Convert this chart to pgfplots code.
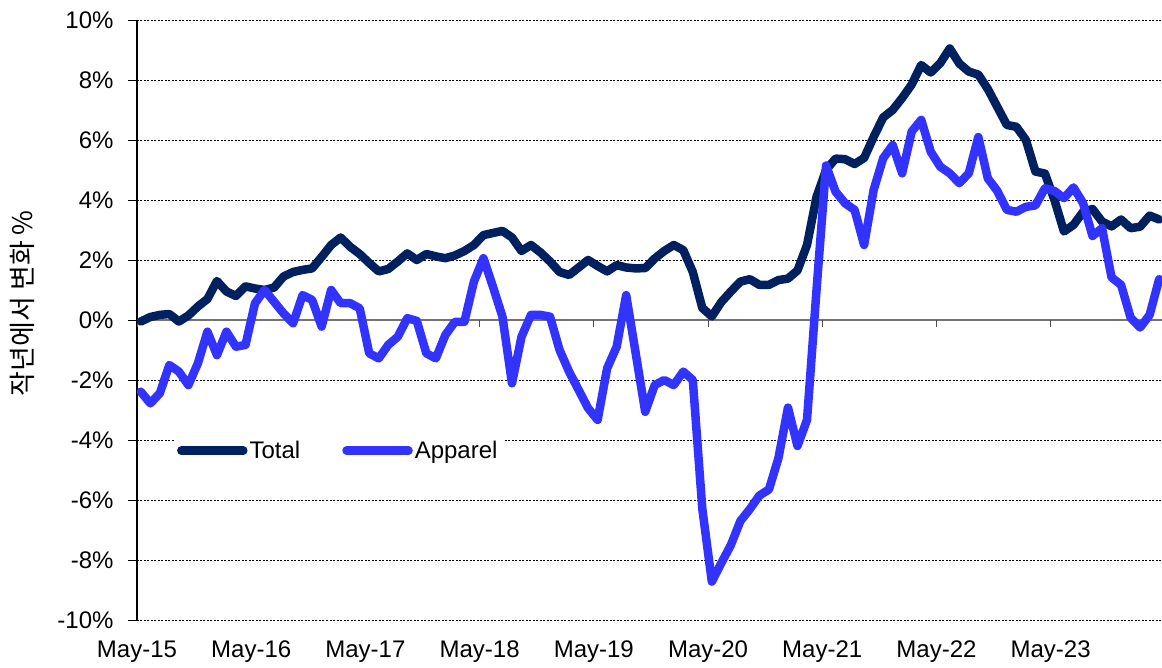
\documentclass[border=0pt]{standalone}
\usepackage{fontspec}
\setmainfont{Liberation Sans}
\newfontfamily\kr{Noto Sans CJK KR}
\usepackage{pgfplots}
\pgfplotsset{compat=1.18}
\usepackage{pgfplotstable}

\definecolor{navy}{HTML}{002060}
\definecolor{appblue}{HTML}{3333FF}

\pgfplotstableread{
x total apparel
0 -0.05 -2.39
1 0.1 -2.78
2 0.17 -2.44
3 0.2 -1.5
4 -0.05 -1.72
5 0.15 -2.17
6 0.45 -1.44
7 0.7 -0.39
8 1.3 -1.17
9 0.95 -0.39
10 0.8 -0.89
11 1.12 -0.83
12 1.05 0.56
13 1.0 1.0
14 1.08 0.61
15 1.45 0.22
16 1.6 -0.11
17 1.67 0.83
18 1.72 0.67
19 2.1 -0.22
20 2.5 1.0
21 2.75 0.56
22 2.44 0.56
23 2.2 0.39
24 1.9 -1.11
25 1.62 -1.28
26 1.7 -0.83
27 1.95 -0.56
28 2.22 0.06
29 2.0 -0.03
30 2.2 -1.11
31 2.12 -1.28
32 2.06 -0.5
33 2.15 -0.06
34 2.3 -0.06
35 2.5 1.28
36 2.83 2.06
37 2.9 1.11
38 2.97 0.11
39 2.75 -2.11
40 2.3 -0.56
41 2.5 0.17
42 2.25 0.17
43 1.95 0.11
44 1.6 -1.0
45 1.5 -1.72
46 1.75 -2.33
47 2.0 -2.94
48 1.8 -3.33
49 1.62 -1.61
50 1.83 -0.89
51 1.75 0.83
52 1.72 -1.11
53 1.73 -3.06
54 2.05 -2.17
55 2.3 -2.0
56 2.5 -2.17
57 2.33 -1.72
58 1.6 -2.0
59 0.4 -6.3
60 0.12 -8.72
61 0.6 -8.1
62 0.95 -7.5
63 1.28 -6.7
64 1.36 -6.3
65 1.17 -5.85
66 1.17 -5.65
67 1.33 -4.6
68 1.38 -2.92
69 1.65 -4.2
70 2.5 -3.33
71 4.1 1.0
72 5.0 5.15
73 5.38 4.28
74 5.36 3.89
75 5.2 3.67
76 5.4 2.5
77 6.1 4.33
78 6.75 5.39
79 7.0 5.83
80 7.4 4.89
81 7.85 6.28
82 8.5 6.67
83 8.25 5.61
84 8.56 5.11
85 9.05 4.89
86 8.55 4.56
87 8.28 4.89
88 8.18 6.1
89 7.7 4.72
90 7.1 4.3
91 6.5 3.67
92 6.44 3.61
93 6.0 3.77
94 4.95 3.82
95 4.88 4.39
96 4.0 4.3
97 2.95 4.06
98 3.17 4.42
99 3.6 3.9
100 3.7 2.8
101 3.28 3.06
102 3.12 1.42
103 3.35 1.17
104 3.06 0.08
105 3.11 -0.25
106 3.48 0.17
107 3.35 1.36
}\datatable

\begin{document}
\begin{tikzpicture}
\path[use as bounding box] (-137pt,-47pt) rectangle (1025pt,620pt);
\begin{axis}[
  at={(0pt,0pt)}, anchor=south west,
  scale only axis, width=1025pt, height=600pt,
  xmin=-0.4, xmax=107.3, ymin=-10, ymax=10,
  axis y line*=left, axis x line*=bottom,
  x axis line style={draw=none},
  y axis line style={black, line width=1.2pt, -},
  xtick={-0.4,11.6,23.6,35.6,47.6,59.6,71.6,83.6,95.6},
  xticklabels={May-15,May-16,May-17,May-18,May-19,May-20,May-21,May-22,May-23},
  xtick style={draw=none},
  ytick={-10,-8,...,10},
  yticklabels={-10\%,-8\%,-6\%,-4\%,-2\%,0\%,2\%,4\%,6\%,8\%,10\%},
  ytick style={black, line width=0.8pt},
  tick align=outside, major tick length=9pt,
  ymajorgrids,
  major grid style={black, line width=0.8pt, dash pattern=on 2pt off 1.5pt},
  tick label style={font=\fontsize{24}{28}\selectfont},
  yticklabel style={xshift=-11pt},
  xticklabel style={yshift=-8pt},
  ylabel={\kr 작년에서 변화 \%},
  ylabel style={at={(axis description cs:-0.112,0.528)}, anchor=center, font=\fontsize{27}{31}\selectfont},
  legend style={at={(0.036,0.305)}, anchor=north west, draw=none, fill=white,
    font=\fontsize{24}{28}\selectfont, legend columns=2,
    /tikz/every even column/.append style={column sep=40pt}},
  legend image code/.code={\draw[#1,line cap=round] (0pt,0pt) -- (62pt,0pt);},
  every axis plot/.append style={line width=8.5pt, line join=round, line cap=round},
]
\draw[black!55, line width=1.5pt] (axis cs:-0.4,0) -- (axis cs:107.3,0);
\pgfplotsinvokeforeach{-0.4,11.6,23.6,35.6,47.6,59.6,71.6,83.6,95.6}{
  \draw[black!70, line width=0.8pt] (axis cs:#1,0) -- ++(0pt,-7pt);
}
\addplot[navy] table[x=x, y=total] {\datatable};
\addlegendentry{Total}
\addplot[appblue] table[x=x, y=apparel] {\datatable};
\addlegendentry{Apparel}
\end{axis}
\end{tikzpicture}
\end{document}
